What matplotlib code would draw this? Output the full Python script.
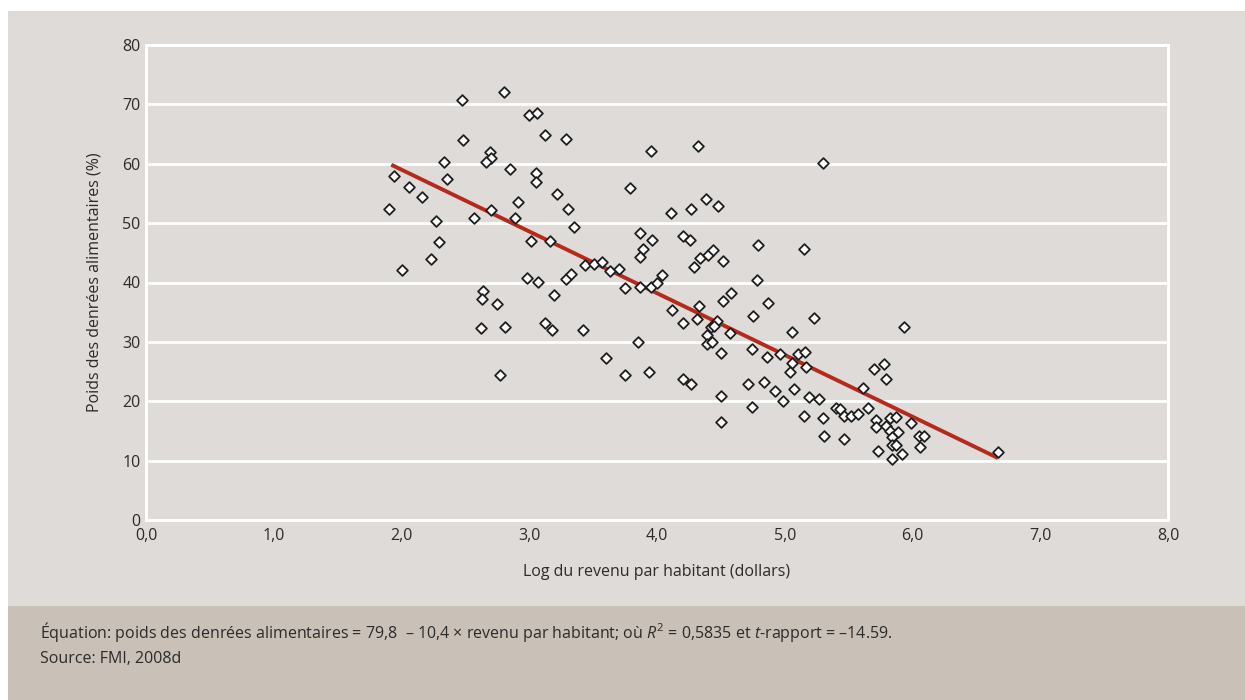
import numpy as np
import matplotlib
matplotlib.use("Agg")
import matplotlib.pyplot as plt
from matplotlib.patches import Rectangle

# log du revenu par habitant (x) et poids des denrées alimentaires en % (y)
log_revenu = [
    2.47, 2.80, 3.00, 3.06, 3.12, 3.29, 2.48, 2.69, 2.70, 2.66,
    2.33, 2.85, 3.05, 3.05, 2.36, 1.94, 2.06, 2.16, 3.22, 1.90,
    3.30, 2.91, 2.70, 2.57, 2.89, 2.27, 3.35, 2.29, 3.01, 3.16,
    2.23, 2.00, 3.44, 3.51, 3.57, 3.63, 3.70, 2.98, 3.07, 3.29,
    3.33, 2.64, 2.63, 3.19, 2.75, 2.62, 2.81, 3.12, 3.18, 3.42,
    3.60, 2.77,
    3.955, 4.32, 5.30, 3.79, 4.38, 4.11, 4.27, 4.48, 3.87, 3.96,
    4.20, 4.26, 3.89, 3.87, 4.34, 4.40, 4.44, 4.52, 4.29, 4.79,
    5.15, 3.75, 3.87, 3.95, 4.00, 4.04, 4.12, 4.20, 4.31, 4.33,
    4.52, 4.58, 4.78, 4.87, 4.75, 5.23, 4.47, 4.42, 4.45, 5.06,
    3.85, 3.75, 3.94, 4.20, 4.27, 4.39, 4.57, 4.39, 4.43, 4.50,
    4.74, 4.86, 4.96, 5.10, 5.16, 5.06, 5.04, 5.17, 4.71, 4.84,
    4.92, 5.07, 4.99, 5.19, 5.27, 4.50, 4.74, 4.50, 5.15, 5.30,
    5.31, 5.465, 5.40, 5.43, 5.46, 5.93,
    5.52, 5.57, 5.655, 5.61, 5.695, 5.78, 5.79, 5.715, 5.715, 5.79,
    5.82, 5.87, 5.82, 5.89, 5.84, 5.84, 5.87, 5.92, 5.84, 5.73,
    5.99, 6.05, 6.09, 6.06, 6.67,
]
poids_alim = [
    70.8, 72.1, 68.2, 68.5, 64.8, 64.1, 64.0, 62.0, 60.9, 60.3,
    60.3, 59.2, 58.4, 56.9, 57.5, 58.0, 56.1, 54.4, 54.9, 52.4,
    52.4, 53.5, 52.2, 50.8, 50.8, 50.4, 49.4, 46.9, 47.0, 47.0,
    43.9, 42.1, 43.0, 43.1, 43.4, 42.0, 42.2, 40.8, 40.1, 40.6,
    41.4, 38.6, 37.3, 37.9, 36.3, 32.4, 32.5, 33.2, 32.0, 32.0,
    27.3, 24.5,
    62.1, 63.0, 60.1, 55.9, 54.0, 51.7, 52.4, 52.9, 48.3, 47.1,
    47.8, 47.1, 45.6, 44.3, 44.1, 44.6, 45.4, 43.7, 42.6, 46.3,
    45.7, 39.0, 39.2, 39.3, 39.9, 41.3, 35.4, 33.1, 33.8, 36.1,
    36.9, 38.2, 40.4, 36.6, 34.3, 34.1, 33.6, 32.5, 32.7, 31.6,
    29.9, 24.4, 24.9, 23.7, 22.9, 31.2, 31.5, 29.6, 30.0, 28.1,
    28.8, 27.4, 28.0, 28.0, 28.3, 26.5, 24.9, 25.8, 22.9, 23.3,
    21.8, 22.1, 20.0, 20.7, 20.3, 20.9, 19.0, 16.5, 17.5, 17.2,
    14.1, 13.6, 18.9, 18.7, 17.6, 32.5,
    17.5, 17.8, 18.8, 22.3, 25.4, 26.2, 23.7, 16.8, 15.6, 15.8,
    17.2, 17.3, 15.0, 14.9, 14.0, 12.7, 12.7, 11.2, 10.3, 11.6,
    16.4, 14.2, 14.1, 12.3, 11.4,
]

# droite de régression: poids = 79,8 - 10,4 x revenu
intercept = 79.8
pente = -10.4
x_min_droite = 1.92
x_max_droite = 6.67

x_ticks = [0, 1, 2, 3, 4, 5, 6, 7, 8]
x_labels = ["0,0", "1,0", "2,0", "3,0", "4,0", "5,0", "6,0", "7,0", "8,0"]
y_ticks = [0, 10, 20, 30, 40, 50, 60, 70, 80]

fond = "#dfdbd8"
fond_note = "#c9c1b8"
rouge = "#b52a1c"
texte = "#2b2b2b"

plt.rcParams["font.family"] = ["Open Sans", "DejaVu Sans"]
plt.rcParams["mathtext.fontset"] = "custom"
plt.rcParams["mathtext.it"] = "Open Sans:italic"
plt.rcParams["mathtext.rm"] = "Open Sans"

W, H = 1245, 700
fig = plt.figure(figsize=(W / 100, H / 100), dpi=100)
fig.patch.set_facecolor("white")

# zone grise du graphique et bandeau de la note
fig.patches.append(Rectangle((8 / W, (H - 606) / H), 1 - 8 / W, (606 - 11) / H,
                             transform=fig.transFigure, facecolor=fond,
                             edgecolor="none", zorder=-10))
fig.patches.append(Rectangle((8 / W, 0), 1 - 8 / W, (H - 606) / H,
                             transform=fig.transFigure, facecolor=fond_note,
                             edgecolor="none", zorder=-10))

ax = fig.add_axes([146 / W, 1 - 520 / H, (1168 - 146) / W, (520 - 45) / H])
ax.set_zorder(1)
ax.set_facecolor(fond)
ax.set_xlim(0, 8)
ax.set_ylim(0, 80)

for s in ax.spines.values():
    s.set_color("white")
    s.set_linewidth(2.2)

ax.set_yticks(y_ticks)
ax.set_xticks(x_ticks)
ax.set_xticklabels(x_labels)
ax.tick_params(length=0, labelsize=11.5, colors=texte)
ax.tick_params(axis="x", pad=6)
ax.tick_params(axis="y", pad=4)
ax.yaxis.grid(True, color="white", linewidth=2)
ax.set_axisbelow(True)

xs = np.linspace(x_min_droite, x_max_droite, 2)
ax.plot(xs, intercept + pente * xs, color=rouge, linewidth=2.8, zorder=2,
        solid_capstyle="butt")

ax.scatter(log_revenu, poids_alim, marker="D", s=30, facecolor="white",
           edgecolor="#1e1e1e", linewidth=1.3, zorder=3, clip_on=False)

ax.set_xlabel("Log du revenu par habitant (dollars)", fontsize=11.5,
              color=texte, labelpad=14)
ax.set_ylabel("Poids des denrées alimentaires (%)", fontsize=11.5,
              color=texte, labelpad=14)

note = ("Équation: poids des denrées alimentaires = 79,8  – 10,4 × revenu par habitant; "
        "où $R^2$ = 0,5835 et $t$-rapport = –14.59.")
fig.text(40 / W, 1 - 632 / H, note, fontsize=11.5, color=texte, va="center")
fig.text(40 / W, 1 - 659 / H, "Source: FMI, 2008d", fontsize=11.5, color=texte,
         va="center")

fig.savefig("out.png", dpi=100)
